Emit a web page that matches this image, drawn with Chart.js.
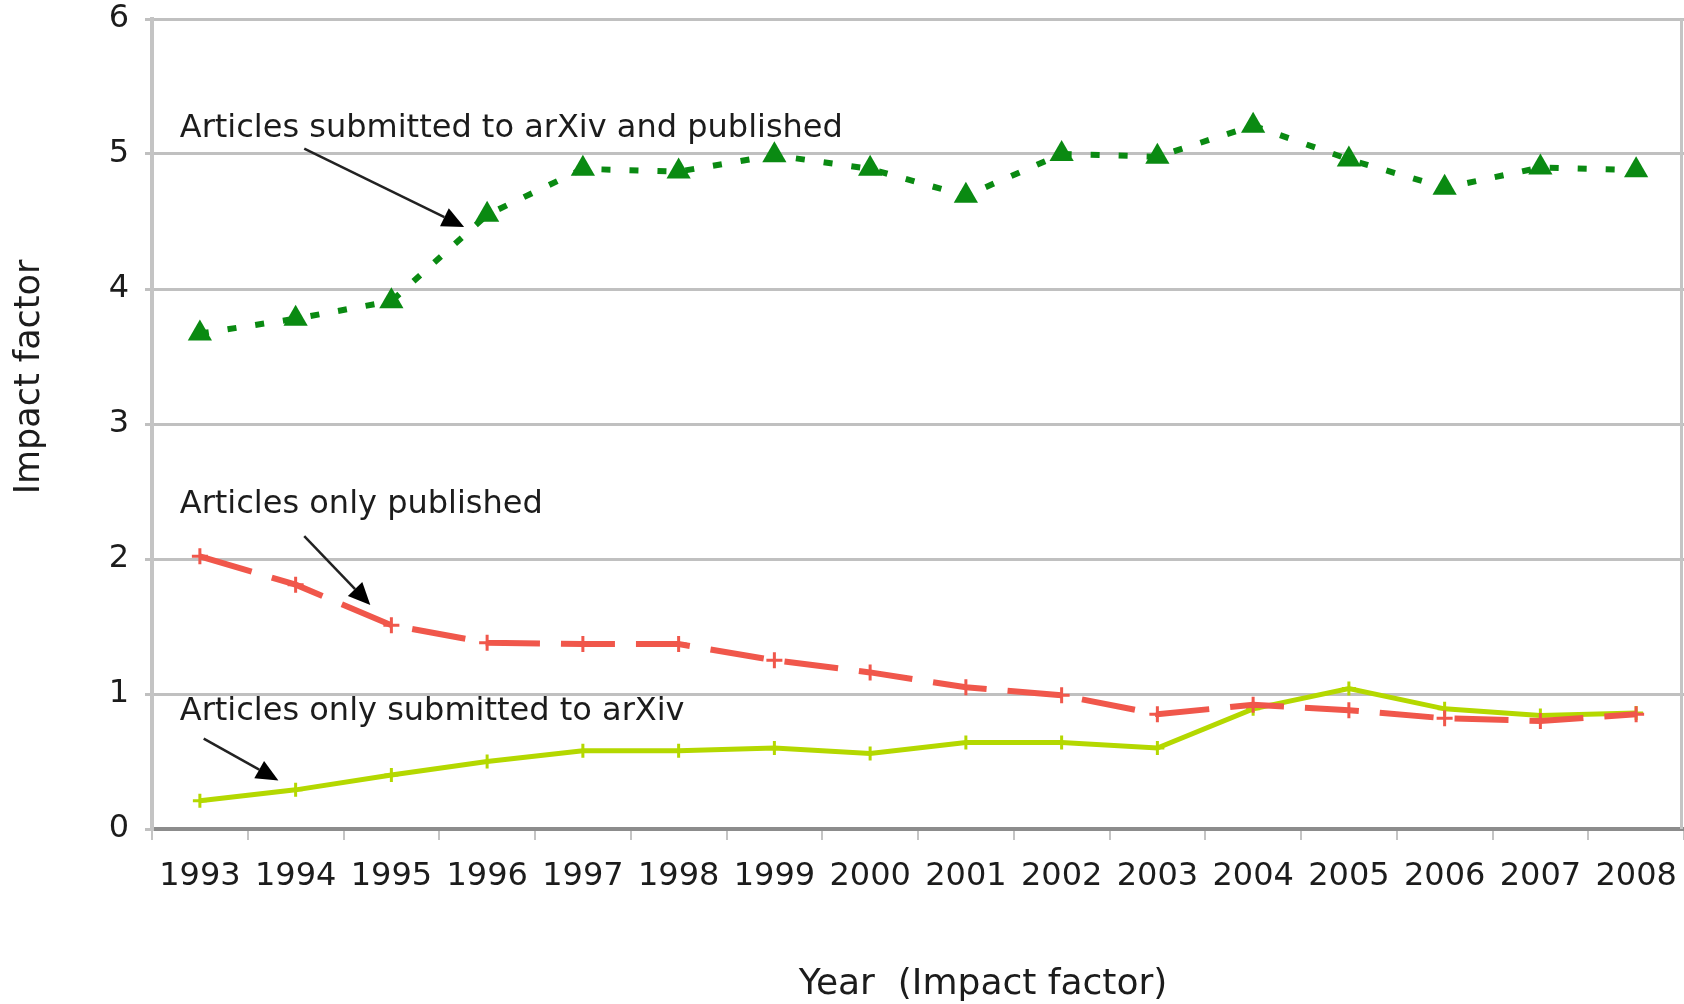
<!DOCTYPE html>
<html>
<head>
<meta charset="utf-8">
<script src="https://cdn.jsdelivr.net/npm/chart.js@4.4.1/dist/chart.umd.min.js"></script>
<style>
  html, body { margin: 0; padding: 0; background: #fff; overflow: hidden; }
  #wrap { width: 1684px; height: 1004px; }
  canvas { display: block; }
</style>
</head>
<body>
<div id="wrap"><canvas id="impactChart"></canvas></div>
<script>
// Data
const years = ['1993', '1994', '1995', '1996', '1997', '1998', '1999', '2000',
               '2001', '2002', '2003', '2004', '2005', '2006', '2007', '2008'];
const arxivAndPublished = [3.67, 3.78, 3.91, 4.55, 4.89, 4.87, 4.99, 4.89,
                           4.69, 5.00, 4.98, 5.21, 4.96, 4.75, 4.90, 4.88];
const onlyPublished = [2.02, 1.81, 1.51, 1.38, 1.37, 1.37, 1.25, 1.16,
                       1.05, 0.99, 0.85, 0.92, 0.88, 0.82, 0.80, 0.85];
const onlyArxiv = [0.21, 0.29, 0.40, 0.50, 0.58, 0.58, 0.60, 0.56,
                   0.64, 0.64, 0.60, 0.89, 1.04, 0.89, 0.84, 0.86];
const yTicks = [0, 1, 2, 3, 4, 5, 6];

// Callout labels, placed in data units (x = category index, y = value)
const callouts = [
    { text: 'Articles submitted to arXiv and published', x: -0.21, y: 5.19, from: [1.09, 5.04], to: [2.76, 4.46] },
    { text: 'Articles only published', x: -0.21, y: 2.40, from: [1.09, 2.17], to: [1.78, 1.66] },
    { text: 'Articles only submitted to arXiv', x: -0.21, y: 0.87, from: [0.04, 0.67], to: [0.82, 0.36] }
];

Chart.defaults.font.family = 'DejaVu Sans, Verdana, sans-serif';
Chart.defaults.font.size = 32;
Chart.defaults.color = '#1c1c1c';

const CALLOUT_FONT = '32px "DejaVu Sans", Verdana, sans-serif';
const TITLE_FONT = '36px "DejaVu Sans", Verdana, sans-serif';

// draws callouts, arrows, axis titles and the right border
const calloutPlugin = {
    id: 'callouts',
    afterDatasetsDraw(chart) {
        const ctx = chart.ctx;
        const xs = chart.scales.x;
        const ys = chart.scales.y;
        const area = chart.chartArea;

        ctx.save();
        // right border
        ctx.strokeStyle = '#c4c4c4';
        ctx.lineWidth = 3;
        ctx.beginPath();
        ctx.moveTo(area.right - 2.5, area.top);
        ctx.lineTo(area.right - 2.5, area.bottom);
        ctx.stroke();

        ctx.font = CALLOUT_FONT;
        ctx.fillStyle = '#1c1c1c';
        ctx.textBaseline = 'middle';
        ctx.textAlign = 'left';
        callouts.forEach(c => {
            ctx.fillText(c.text, xs.getPixelForValue(c.x), ys.getPixelForValue(c.y));

            const x1 = xs.getPixelForValue(c.from[0]), y1 = ys.getPixelForValue(c.from[1]);
            const x2 = xs.getPixelForValue(c.to[0]), y2 = ys.getPixelForValue(c.to[1]);
            const ang = Math.atan2(y2 - y1, x2 - x1);
            const head = 22, half = 10;
            const bx = x2 - Math.cos(ang) * head, by = y2 - Math.sin(ang) * head;

            ctx.strokeStyle = '#222';
            ctx.lineWidth = 2.5;
            ctx.beginPath();
            ctx.moveTo(x1, y1);
            ctx.lineTo(bx, by);
            ctx.stroke();

            ctx.fillStyle = '#000';
            ctx.beginPath();
            ctx.moveTo(x2, y2);
            ctx.lineTo(bx + Math.sin(ang) * half, by - Math.cos(ang) * half);
            ctx.lineTo(bx - Math.sin(ang) * half, by + Math.cos(ang) * half);
            ctx.closePath();
            ctx.fill();
            ctx.fillStyle = '#1c1c1c';
        });

        // axis titles
        ctx.font = TITLE_FONT;
        ctx.textAlign = 'center';
        ctx.fillText('Year  (Impact factor)', 983, 985);
        ctx.font = '35px "DejaVu Sans", Verdana, sans-serif';
        ctx.translate(30, 377);
        ctx.rotate(-Math.PI / 2);
        ctx.fillText('Impact factor', 0, 0);
        ctx.restore();
    }
};

const ctx = document.getElementById('impactChart').getContext('2d');
const impactChart = new Chart(ctx, {
    type: 'line',
    data: {
        labels: years,
        datasets: [{
            label: 'Articles submitted to arXiv and published',
            data: arxivAndPublished,
            borderColor: '#0a8a12',
            backgroundColor: '#0a8a12',
            borderWidth: 6,
            borderDash: [9, 19],
            tension: 0,
            pointStyle: 'triangle',
            pointRadius: 14,
            pointBorderWidth: 0
        }, {
            label: 'Articles only published',
            data: onlyPublished,
            borderColor: '#f0574b',
            backgroundColor: '#f0574b',
            borderWidth: 6,
            borderDash: [54, 21],
            tension: 0,
            pointStyle: 'cross',
            pointRadius: 8,
            pointBorderWidth: 3
        }, {
            label: 'Articles only submitted to arXiv',
            data: onlyArxiv,
            borderColor: '#b4d800',
            backgroundColor: '#b4d800',
            borderWidth: 5,
            tension: 0,
            pointStyle: 'cross',
            pointRadius: 7,
            pointBorderWidth: 3
        }]
    },
    options: {
        responsive: true,
        maintainAspectRatio: false,
        animation: false,
        layout: {
            autoPadding: false,
            padding: { top: 19, right: 0, left: 0, bottom: 0 }
        },
        plugins: {
            legend: { display: false },
            tooltip: { enabled: false }
        },
        scales: {
            x: {
                offset: true,
                afterFit: function(scale) {
                    scale.height = 175;
                    scale.paddingLeft = 0;
                    scale.paddingRight = 0;
                },
                border: { color: '#8c8c8c', width: 4 },
                grid: {
                    offset: true,
                    drawOnChartArea: false,
                    drawTicks: true,
                    tickLength: 11,
                    color: '#c4c4c4',
                    lineWidth: 2
                },
                ticks: {
                    color: '#1c1c1c',
                    padding: 17,
                    maxRotation: 0,
                    autoSkip: false
                }
            },
            y: {
                min: 0,
                max: 6,
                afterFit: function(scale) {
                    scale.width = 152;
                    scale.paddingTop = 0;
                    scale.paddingBottom = 0;
                },
                afterBuildTicks: function(scale) {
                    scale.ticks = yTicks.map(v => ({ value: v }));
                },
                border: { color: '#c4c4c4', width: 4 },
                grid: {
                    color: '#c0c0c0',
                    lineWidth: 3,
                    tickLength: 7
                },
                ticks: {
                    color: '#1c1c1c',
                    padding: 16
                }
            }
        }
    },
    plugins: [calloutPlugin]
});
</script>
</body>
</html>
